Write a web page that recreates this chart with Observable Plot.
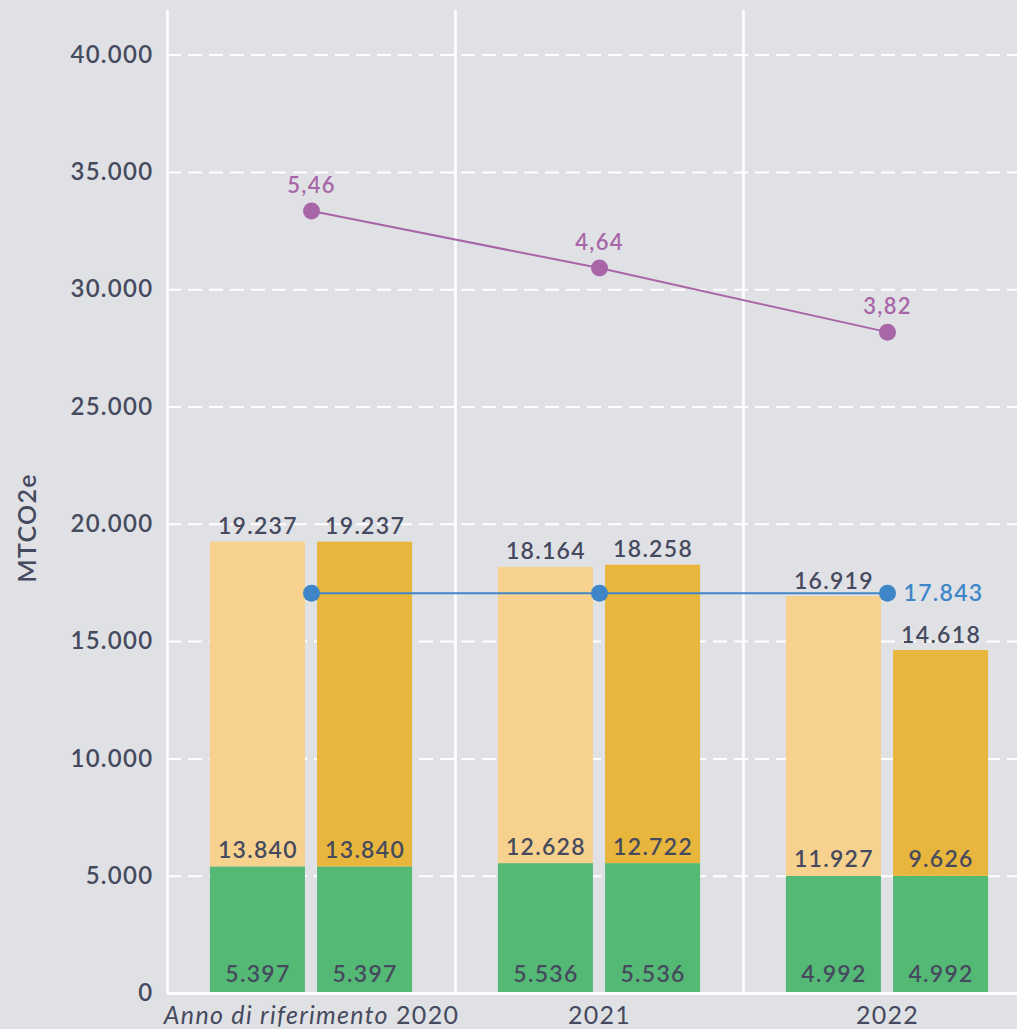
<!DOCTYPE html>
<html>
<head>
<meta charset="utf-8">
<script src="https://cdn.jsdelivr.net/npm/d3@7"></script>
<script src="https://cdn.jsdelivr.net/npm/@observablehq/plot@0.6"></script>
<style>
  html, body { margin: 0; padding: 0; background: #e0e1e5; }
  #chart svg { display: block; }
</style>
</head>
<body>
<div id="chart"></div>
<script>
// ---- data ----
const years = ["2020", "2021", "2022"];
const xLabels = ["Anno di riferimento 2020", "2021", "2022"];
const greenVals = [5397, 5536, 4992];
const lightSeg = [13840, 12628, 11927];
const lightTotal = [19237, 18164, 16919];
const darkSeg = [13840, 12722, 9626];
const darkTotal = [19237, 18258, 14618];
const blueLine = [17060, 17060, 17060];
const blueLabel = "17.843";
const purpleVals = [5.46, 4.64, 3.82];
const purplePos = [33350, 30920, 28190];
const yTicks = [0, 5000, 10000, 15000, 20000, 25000, 30000, 35000, 40000];
const yTitle = "MTCO2e";

// ---- styles ----
const C = {
  bg: "#e0e1e5", text: "#464a5e", green: "#55b976", light: "#f7d18e",
  dark: "#e8b63d", blue: "#3f86c9", purple: "#a866a8"
};
const fmt = d => d3.format(",")(d).replace(/,/g, ".");
const fmtDec = d => d3.format(".2f")(d).replace(".", ",");

const bars = years.flatMap((y, i) => [
  {i, kind: "light", x1: i - 0.351, x2: i - 0.021, green: greenVals[i], seg: lightSeg[i], total: lightTotal[i]},
  {i, kind: "dark",  x1: i + 0.021, x2: i + 0.351, green: greenVals[i], seg: darkSeg[i], total: darkTotal[i]}
]).map(d => ({...d, xc: (d.x1 + d.x2) / 2}));

const blue = years.map((y, i) => ({i, v: blueLine[i]}));
const purple = years.map((y, i) => ({i, v: purplePos[i], label: fmtDec(purpleVals[i])}));

const numFont = {fontSize: 23, fontWeight: 600, fill: C.text};

const chart = Plot.plot({
  width: 1017,
  height: 1029,
  marginLeft: 167,
  marginRight: 0,
  marginTop: 10,
  marginBottom: 36,
  style: {background: C.bg, fontFamily: "Lato, 'Noto Sans', sans-serif", color: C.text, letterSpacing: "1.3px"},
  x: {type: "linear", domain: [-0.5, 2.5], range: [167, 1031], axis: null},
  y: {domain: [0, 41900], nice: false, axis: null},
  marks: [
    Plot.ruleY(yTicks.filter(d => d > 0), {stroke: "white", strokeWidth: 2, strokeDasharray: "14,7"}),
    Plot.ruleX([-0.5, 0.5, 1.5], {stroke: "white", strokeWidth: 2.5}),
    Plot.rectY(bars, {x1: "x1", x2: "x2", y1: 0, y2: "green", fill: C.green}),
    Plot.rectY(bars, {x1: "x1", x2: "x2", y1: "green", y2: "total", fill: d => d.kind === "light" ? C.light : C.dark}),
    Plot.ruleY([0], {stroke: "white", strokeWidth: 3}),
    Plot.axisY({ticks: yTicks, tickFormat: fmt, tickSize: 0, tickPadding: 14, fontSize: 24, fontWeight: 600, color: C.text, label: null}),
    Plot.axisX({ticks: [0, 1, 2], tickFormat: i => xLabels[i], tickSize: 0, tickPadding: 13, fontSize: 25, color: C.text, label: null}),
    Plot.text([yTitle], {frameAnchor: "left", textAnchor: "middle", dx: -140, dy: 26, rotate: -90, fontSize: 25, fontWeight: 600, fill: C.text}),
    // bar labels
    Plot.text(bars, {x: "xc", y: "total", text: d => fmt(d.total), lineAnchor: "bottom", dy: -8, ...numFont}),
    Plot.text(bars, {x: "xc", y: "green", text: d => fmt(d.seg), lineAnchor: "bottom", dy: -9, ...numFont}),
    Plot.text(bars, {x: "xc", y: 0, text: d => fmt(d.green), lineAnchor: "bottom", dy: -12, ...numFont}),
    // blue line
    Plot.line(blue, {x: "i", y: "v", stroke: C.blue, strokeWidth: 2}),
    Plot.dot(blue, {x: "i", y: "v", r: 8.5, fill: C.blue}),
    Plot.text([blue[blue.length - 1]], {x: "i", y: "v", text: () => blueLabel, textAnchor: "start", dx: 16, ...numFont, fill: C.blue}),
    // purple line
    Plot.line(purple, {x: "i", y: "v", stroke: C.purple, strokeWidth: 2}),
    Plot.dot(purple, {x: "i", y: "v", r: 8.5, fill: C.purple}),
    Plot.text(purple, {x: "i", y: "v", text: "label", lineAnchor: "bottom", dy: -18, ...numFont, fontSize: 22, fill: C.purple})
  ]
});

document.getElementById("chart").appendChild(chart);

// italic prefix for the first x label
d3.select(chart).selectAll("text").each(function() {
  if (this.textContent === xLabels[0]) {
    const el = d3.select(this);
    el.text(null);
    el.append("tspan").attr("font-style", "italic").text("Anno di riferimento ");
    el.append("tspan").text("2020");
  }
});
</script>
</body>
</html>
